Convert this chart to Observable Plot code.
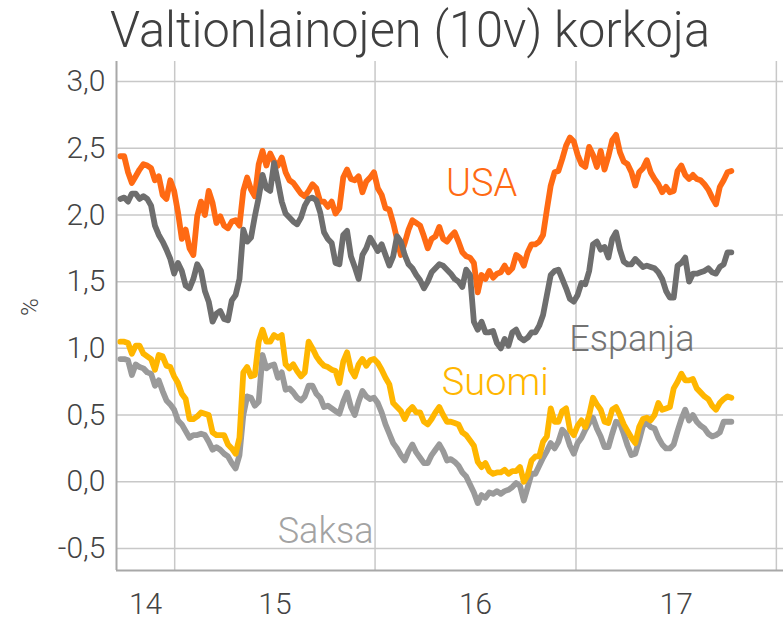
<!DOCTYPE html>
<html><head><meta charset="utf-8">
<script src="https://cdn.jsdelivr.net/npm/d3@7"></script>
<script src="https://cdn.jsdelivr.net/npm/@observablehq/plot@0.6"></script>
<style>
body{margin:0;background:#fff;width:783px;height:621px;overflow:hidden;font-family:Roboto,sans-serif;position:relative;}
#title{position:absolute;left:0;top:0;z-index:2;}
</style></head><body>
<svg id="title" width="783" height="62"><text x="110" y="47" textLength="600" lengthAdjust="spacingAndGlyphs" font-family="Roboto, sans-serif" font-size="50" font-weight="300" fill="#404040">Valtionlainojen (10v) korkoja</text></svg>
<div id="chart"></div>
<script>
// Weekly observations starting 2014-09-24
const firstWeek = "2014-09-24";
const usa = [2.44,2.44,2.32,2.24,2.29,2.34,2.38,2.37,2.35,2.26,
2.29,2.15,2.12,2.26,2.18,2.02,1.82,1.89,1.75,1.70,
1.99,2.10,2.00,2.18,2.09,1.94,1.99,1.92,1.90,1.95,
1.96,1.92,2.18,2.28,2.19,2.14,2.38,2.48,2.37,2.46,
2.40,2.37,2.43,2.32,2.26,2.24,2.20,2.16,2.14,2.18,
2.23,2.20,2.10,2.10,2.06,2.10,2.01,2.05,2.28,2.34,
2.27,2.26,2.29,2.17,2.25,2.28,2.32,2.20,2.15,2.05,
2.04,1.94,1.82,1.70,1.79,1.89,1.96,1.94,1.92,1.84,
1.75,1.82,1.84,1.91,1.82,1.80,1.84,1.87,1.80,1.72,
1.69,1.68,1.64,1.42,1.55,1.52,1.58,1.53,1.56,1.57,
1.62,1.57,1.60,1.70,1.68,1.62,1.72,1.78,1.78,1.80,
1.85,2.04,2.22,2.32,2.33,2.42,2.52,2.58,2.55,2.45,
2.38,2.36,2.51,2.45,2.36,2.48,2.34,2.44,2.56,2.60,
2.47,2.40,2.38,2.32,2.22,2.32,2.35,2.41,2.32,2.27,
2.23,2.17,2.21,2.17,2.18,2.33,2.37,2.30,2.27,2.30,
2.27,2.26,2.23,2.19,2.13,2.08,2.21,2.26,2.32,2.33];
const espanja = [2.12,2.13,2.10,2.16,2.16,2.12,2.14,2.12,2.07,1.92,
1.85,1.80,1.74,1.67,1.56,1.64,1.58,1.47,1.45,1.52,
1.63,1.58,1.43,1.35,1.20,1.26,1.28,1.22,1.21,1.36,
1.40,1.52,1.89,1.80,1.83,1.99,2.13,2.30,2.20,2.18,
2.39,2.25,2.10,2.01,1.98,1.95,1.93,1.98,2.07,2.12,
2.13,2.11,2.02,1.87,1.82,1.79,1.64,1.63,1.85,1.88,
1.69,1.61,1.52,1.70,1.75,1.83,1.78,1.73,1.78,1.70,
1.62,1.69,1.84,1.80,1.70,1.63,1.60,1.55,1.51,1.45,
1.50,1.57,1.60,1.63,1.62,1.59,1.56,1.52,1.50,1.46,
1.59,1.55,1.20,1.14,1.20,1.12,1.12,1.13,1.04,1.00,
1.07,1.02,1.12,1.14,1.08,1.06,1.08,1.12,1.12,1.17,
1.25,1.40,1.55,1.58,1.59,1.52,1.45,1.37,1.35,1.40,
1.49,1.48,1.58,1.78,1.80,1.74,1.76,1.68,1.82,1.87,
1.74,1.65,1.63,1.63,1.67,1.64,1.61,1.62,1.61,1.60,
1.57,1.52,1.43,1.38,1.38,1.62,1.64,1.68,1.50,1.56,
1.56,1.57,1.58,1.60,1.57,1.56,1.61,1.63,1.72,1.72];
const suomi = [1.05,1.05,1.04,0.96,1.02,1.02,0.96,0.94,0.92,0.84,
0.95,0.94,0.87,0.86,0.79,0.74,0.66,0.62,0.47,0.47,
0.49,0.52,0.51,0.50,0.37,0.35,0.35,0.35,0.28,0.25,
0.21,0.33,0.82,0.86,0.79,0.80,1.05,1.14,1.05,1.05,
1.10,1.08,1.10,0.88,0.85,0.88,0.83,0.79,0.82,1.05,
1.00,0.94,0.90,0.87,0.86,0.84,0.83,0.74,0.90,0.97,
0.84,0.79,0.88,0.92,0.87,0.91,0.92,0.89,0.84,0.78,
0.73,0.59,0.56,0.53,0.47,0.53,0.56,0.52,0.52,0.45,
0.43,0.47,0.52,0.56,0.50,0.45,0.45,0.44,0.43,0.37,
0.35,0.31,0.27,0.15,0.11,0.14,0.08,0.06,0.07,0.07,
0.09,0.06,0.08,0.08,0.11,0.00,0.05,0.16,0.19,0.19,
0.30,0.34,0.55,0.45,0.45,0.53,0.55,0.39,0.35,0.42,
0.46,0.41,0.50,0.63,0.58,0.54,0.45,0.44,0.54,0.56,
0.50,0.43,0.38,0.33,0.29,0.41,0.47,0.48,0.46,0.50,
0.59,0.54,0.55,0.56,0.70,0.75,0.81,0.76,0.76,0.77,
0.70,0.67,0.64,0.62,0.57,0.54,0.59,0.62,0.64,0.63];
const saksa = [0.92,0.92,0.91,0.80,0.88,0.86,0.85,0.82,0.81,0.72,
0.76,0.68,0.61,0.58,0.54,0.46,0.43,0.38,0.33,0.35,
0.35,0.36,0.35,0.30,0.24,0.26,0.24,0.21,0.19,0.14,
0.10,0.20,0.50,0.64,0.63,0.57,0.60,0.95,0.85,0.87,
0.88,0.78,0.82,0.69,0.70,0.67,0.63,0.61,0.64,0.72,
0.72,0.66,0.63,0.56,0.57,0.55,0.53,0.51,0.60,0.67,
0.56,0.50,0.60,0.68,0.64,0.62,0.63,0.59,0.52,0.43,
0.36,0.29,0.25,0.20,0.16,0.23,0.28,0.22,0.18,0.14,
0.14,0.20,0.24,0.28,0.23,0.16,0.17,0.15,0.12,0.07,
0.04,-0.02,-0.08,-0.16,-0.10,-0.12,-0.08,-0.09,-0.07,-0.09,
-0.07,-0.06,-0.04,-0.01,-0.03,-0.14,-0.04,0.06,0.06,0.12,
0.18,0.23,0.29,0.25,0.30,0.39,0.36,0.27,0.21,0.29,
0.33,0.39,0.44,0.48,0.40,0.34,0.26,0.26,0.36,0.45,
0.44,0.36,0.27,0.20,0.21,0.31,0.42,0.44,0.41,0.40,
0.33,0.28,0.25,0.25,0.28,0.38,0.47,0.54,0.46,0.50,
0.45,0.42,0.40,0.36,0.34,0.35,0.37,0.45,0.45,0.45];

const yTicks = [-0.5, 0, 0.5, 1.0, 1.5, 2.0, 2.5, 3.0];
const xTickLabels = ["14", "15", "16", "17"];
const xTickYears = [2014, 2015, 2016, 2017];
const seriesLabels = [
  {name: "USA", date: "2016-07-13", value: 2.23},
  {name: "Espanja", date: "2017-04-13", value: 1.07},
  {name: "Suomi", date: "2016-08-07", value: 0.74},
  {name: "Saksa", date: "2015-10-03", value: -0.37}
];

const colors = {USA: "#ff6a13", Espanja: "#6e6e6e", Suomi: "#ffb600", Saksa: "#9a9a9a"};
const labelColors = {USA: "#ff6a13", Espanja: "#737373", Suomi: "#ffb600", Saksa: "#a3a3a3"};

const xStart = new Date("2014-09-17");
const xEnd = new Date("2018-01-14");
const yMin = -0.665, yMax = 3.15;

const dates = usa.map((_, i) => d3.utcDay.offset(new Date(firstWeek), 7 * i));
const yearStarts = [2015, 2016, 2017, 2018].map(y => new Date(Date.UTC(y, 0, 1)));
const xTickDates = xTickYears.map(y => {
  const a = Math.max(+new Date(Date.UTC(y, 0, 1)), +xStart);
  const b = Math.min(+new Date(Date.UTC(y + 1, 0, 1)), +xEnd);
  return new Date((a + b) / 2);
});
const tickLabelByTime = new Map(xTickDates.map((d, i) => [+d, xTickLabels[i]]));
const fmt = d => d.toFixed(1).replace(".", ",");

const line = (vals, name) => Plot.line(vals, {
  x: (d, i) => dates[i], y: d => d, stroke: colors[name], strokeWidth: 5.8
});

const chart = Plot.plot({
  width: 783, height: 621,
  marginLeft: 116, marginRight: 0, marginTop: 61, marginBottom: 51,
  style: {fontFamily: "Roboto, sans-serif", fontSize: "30px", fontWeight: 300, color: "#444", background: "#fff", overflow: "visible"},
  x: {type: "utc", domain: [xStart, xEnd]},
  y: {domain: [yMin, yMax]},
  marks: [
    Plot.gridY(yTicks, {stroke: "#c8c8c8", strokeOpacity: 1, strokeWidth: 1.5}),
    Plot.gridX(yearStarts, {stroke: "#c8c8c8", strokeOpacity: 1, strokeWidth: 1.5}),
    Plot.ruleX([xStart], {stroke: "#a8a8a8", strokeWidth: 2}),
    Plot.ruleY([yMin], {stroke: "#a8a8a8", strokeWidth: 2}),
    Plot.axisY(yTicks, {tickSize: 0, tickPadding: 11, tickFormat: fmt, label: null, fill: "#444"}),
    Plot.axisX(xTickDates, {tickSize: 0, tickPadding: 22, tickFormat: d => tickLabelByTime.get(+d), label: null, fill: "#444"}),
    line(usa, "USA"),
    line(espanja, "Espanja"),
    line(saksa, "Saksa"),
    line(suomi, "Suomi"),
    Plot.text(seriesLabels, {
      x: d => new Date(d.date), y: "value", text: "name",
      fill: d => labelColors[d.name],
      fontSize: d => (d.name === "Espanja" || d.name === "Saksa") ? 36 : 38,
      fontWeight: 300
    }),
    Plot.text(["%"], {frameAnchor: "left", dx: -86, rotate: -90, fontSize: 24, fill: "#444"})
  ]
});
document.getElementById("chart").append(chart);
</script>
</body></html>
